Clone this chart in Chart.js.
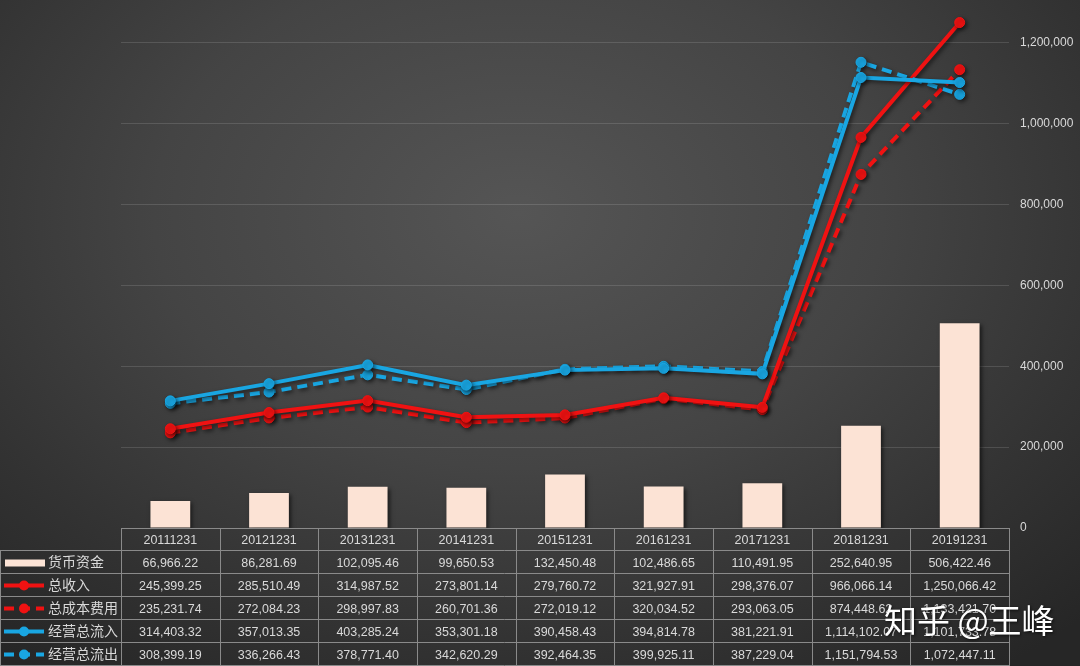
<!DOCTYPE html>
<html>
<head>
<meta charset="utf-8">
<script src="https://cdn.jsdelivr.net/npm/chart.js@4.4.0/dist/chart.umd.min.js"></script>
<style>
    html, body {
        margin: 0;
        padding: 0;
        width: 1080px;
        height: 666px;
        overflow: hidden;
        background: radial-gradient(ellipse 75% 85% at 48% 32%, #555555 0%, #444444 45%, #333333 75%, #262626 100%);
    }
    #chart { display: block; }
</style>
</head>
<body>
<canvas id="chart" width="1080" height="666"></canvas>
<script>
// Data
const categories = ['20111231', '20121231', '20131231', '20141231', '20151231', '20161231', '20171231', '20181231', '20191231'];
const cash     = [66966.22, 86281.69, 102095.46, 99650.53, 132450.48, 102486.65, 110491.95, 252640.95, 506422.46];
const revenue  = [245399.25, 285510.49, 314987.52, 273801.14, 279760.72, 321927.91, 298376.07, 966066.14, 1250066.42];
const cost     = [235231.74, 272084.23, 298997.83, 260701.36, 272019.12, 320034.52, 293063.05, 874448.62, 1133421.70];
const inflow   = [314403.32, 357013.35, 403285.24, 353301.18, 390458.43, 394814.78, 381221.91, 1114102.07, 1101733.78];
const outflow  = [308399.19, 336266.43, 378771.40, 342620.29, 392464.35, 399925.11, 387229.04, 1151794.53, 1072447.11];
const seriesNames = ['货币资金', '总收入', '总成本费用', '经营总流入', '经营总流出'];
const yTickValues = [0, 200000, 400000, 600000, 800000, 1000000, 1200000];

const RED = '#f01212';
const BLUE = '#19a6e2';
const PEACH = '#fce3d5';
const TEXT = '#d9d9d9';

const fmt2 = v => v.toLocaleString('en-US', { minimumFractionDigits: 2, maximumFractionDigits: 2 });

// shadow under marks
const shadowPlugin = {
    id: 'shadow',
    beforeDatasetDraw(chart) {
        const ctx = chart.ctx;
        ctx.save();
        ctx.shadowColor = 'rgba(0,0,0,0.55)';
        ctx.shadowBlur = 4;
        ctx.shadowOffsetX = 2;
        ctx.shadowOffsetY = 2;
    },
    afterDatasetDraw(chart) {
        chart.ctx.restore();
    }
};

// data table under the plot
const tablePlugin = {
    id: 'dataTable',
    afterDraw(chart) {
        const ctx = chart.ctx;
        const x = chart.scales.x;
        const area = chart.chartArea;
        const colW = x.width / categories.length;
        const top = area.bottom;
        const rowH = 23;
        const rows = [cash, revenue, cost, inflow, outflow];
        const left = area.left;
        const right = area.right;
        const bottom = top + rowH * (rows.length + 1);

        ctx.save();
        ctx.strokeStyle = '#8a8a8a';
        ctx.lineWidth = 1;
        ctx.beginPath();
        ctx.moveTo(left, top + 0.5);
        ctx.lineTo(right, top + 0.5);
        for (let r = 1; r <= rows.length + 1; r++) {
            const y = Math.round(top + r * rowH) - 0.5;
            ctx.moveTo(0, y);
            ctx.lineTo(right, y);
        }
        for (let c = 0; c <= categories.length; c++) {
            const xx = Math.round(left + c * colW) + 0.5;
            ctx.moveTo(xx, top);
            ctx.lineTo(xx, bottom);
        }
        ctx.moveTo(0.5, top + rowH);
        ctx.lineTo(0.5, bottom);
        ctx.stroke();

        ctx.fillStyle = TEXT;
        ctx.textAlign = 'center';
        ctx.textBaseline = 'middle';
        ctx.font = '12.5px "Liberation Sans", Arial, sans-serif';
        categories.forEach((cat, i) => {
            ctx.fillText(cat, x.getPixelForValue(i), top + rowH / 2 + 1);
        });
        rows.forEach((vals, r) => {
            const cy = top + rowH * (r + 1) + rowH / 2 + 1;
            vals.forEach((v, i) => {
                ctx.fillText(fmt2(v), x.getPixelForValue(i), cy);
            });
        });

        // legend keys + labels
        ctx.textAlign = 'left';
        ctx.font = '14px "Noto Sans CJK SC", sans-serif';
        rows.forEach((vals, r) => {
            const cy = top + rowH * (r + 1) + rowH / 2;
            if (r === 0) {
                ctx.fillStyle = PEACH;
                ctx.fillRect(5, cy - 3, 40, 7);
            } else {
                const color = r < 3 ? RED : BLUE;
                const dashed = r === 2 || r === 4;
                ctx.strokeStyle = color;
                ctx.fillStyle = color;
                ctx.lineWidth = 4;
                ctx.setLineDash(dashed ? [10, 6] : []);
                ctx.beginPath();
                ctx.moveTo(4, cy);
                ctx.lineTo(44, cy);
                ctx.stroke();
                ctx.setLineDash([]);
                ctx.beginPath();
                ctx.arc(24, cy, 5, 0, Math.PI * 2);
                ctx.fill();
            }
            ctx.fillStyle = TEXT;
            ctx.fillText(seriesNames[r], 48, cy - 1);
        });

        // watermark
        ctx.font = '33px "Noto Sans CJK SC", sans-serif';
        ctx.textAlign = 'left';
        ctx.shadowColor = 'rgba(0,0,0,0.7)';
        ctx.shadowBlur = 3;
        ctx.shadowOffsetX = 1;
        ctx.shadowOffsetY = 1;
        ctx.fillStyle = '#ffffff';
        ctx.fillText('知乎 @王峰', 884, 620);
        ctx.restore();
    }
};

function lineSet(label, data, color, dashed, order) {
    return {
        type: 'line',
        label: label,
        data: data,
        borderColor: color,
        backgroundColor: color,
        borderWidth: 4,
        borderDash: dashed ? [10, 6] : [],
        pointRadius: 5,
        pointHoverRadius: 5,
        pointBackgroundColor: color,
        pointBorderColor: color,
        pointBorderWidth: 1,
        tension: 0,
        fill: false,
        order: order
    };
}

const chart = new Chart(document.getElementById('chart').getContext('2d'), {
    data: {
        labels: categories,
        datasets: [
            {
                type: 'bar',
                label: seriesNames[0],
                data: cash,
                backgroundColor: PEACH,
                barPercentage: 0.62,
                categoryPercentage: 0.65,
                order: 10
            },
            lineSet(seriesNames[2], cost, RED, true, 4),
            lineSet(seriesNames[1], revenue, RED, false, 3),
            lineSet(seriesNames[4], outflow, BLUE, true, 2),
            lineSet(seriesNames[3], inflow, BLUE, false, 1)
        ]
    },
    options: {
        responsive: false,
        animation: false,
        layout: {
            padding: { left: 121, right: 0, top: 0, bottom: 138 }
        },
        plugins: {
            legend: { display: false },
            tooltip: { enabled: false }
        },
        scales: {
            x: {
                display: false,
                offset: true
            },
            y: {
                position: 'right',
                min: 0,
                max: 1291000,
                afterBuildTicks(axis) {
                    axis.ticks = yTickValues.map(v => ({ value: v }));
                },
                afterFit(axis) {
                    axis.width = 71;
                    axis.paddingTop = 0;
                    axis.paddingBottom = 0;
                },
                grid: {
                    color: 'rgba(255,255,255,0.13)',
                    drawTicks: false
                },
                border: { display: false },
                ticks: {
                    padding: 11,
                    color: TEXT,
                    font: { family: '"Liberation Sans", Arial, sans-serif', size: 12 },
                    callback: v => v.toLocaleString('en-US')
                }
            }
        }
    },
    plugins: [shadowPlugin, tablePlugin]
});
</script>
</body>
</html>
